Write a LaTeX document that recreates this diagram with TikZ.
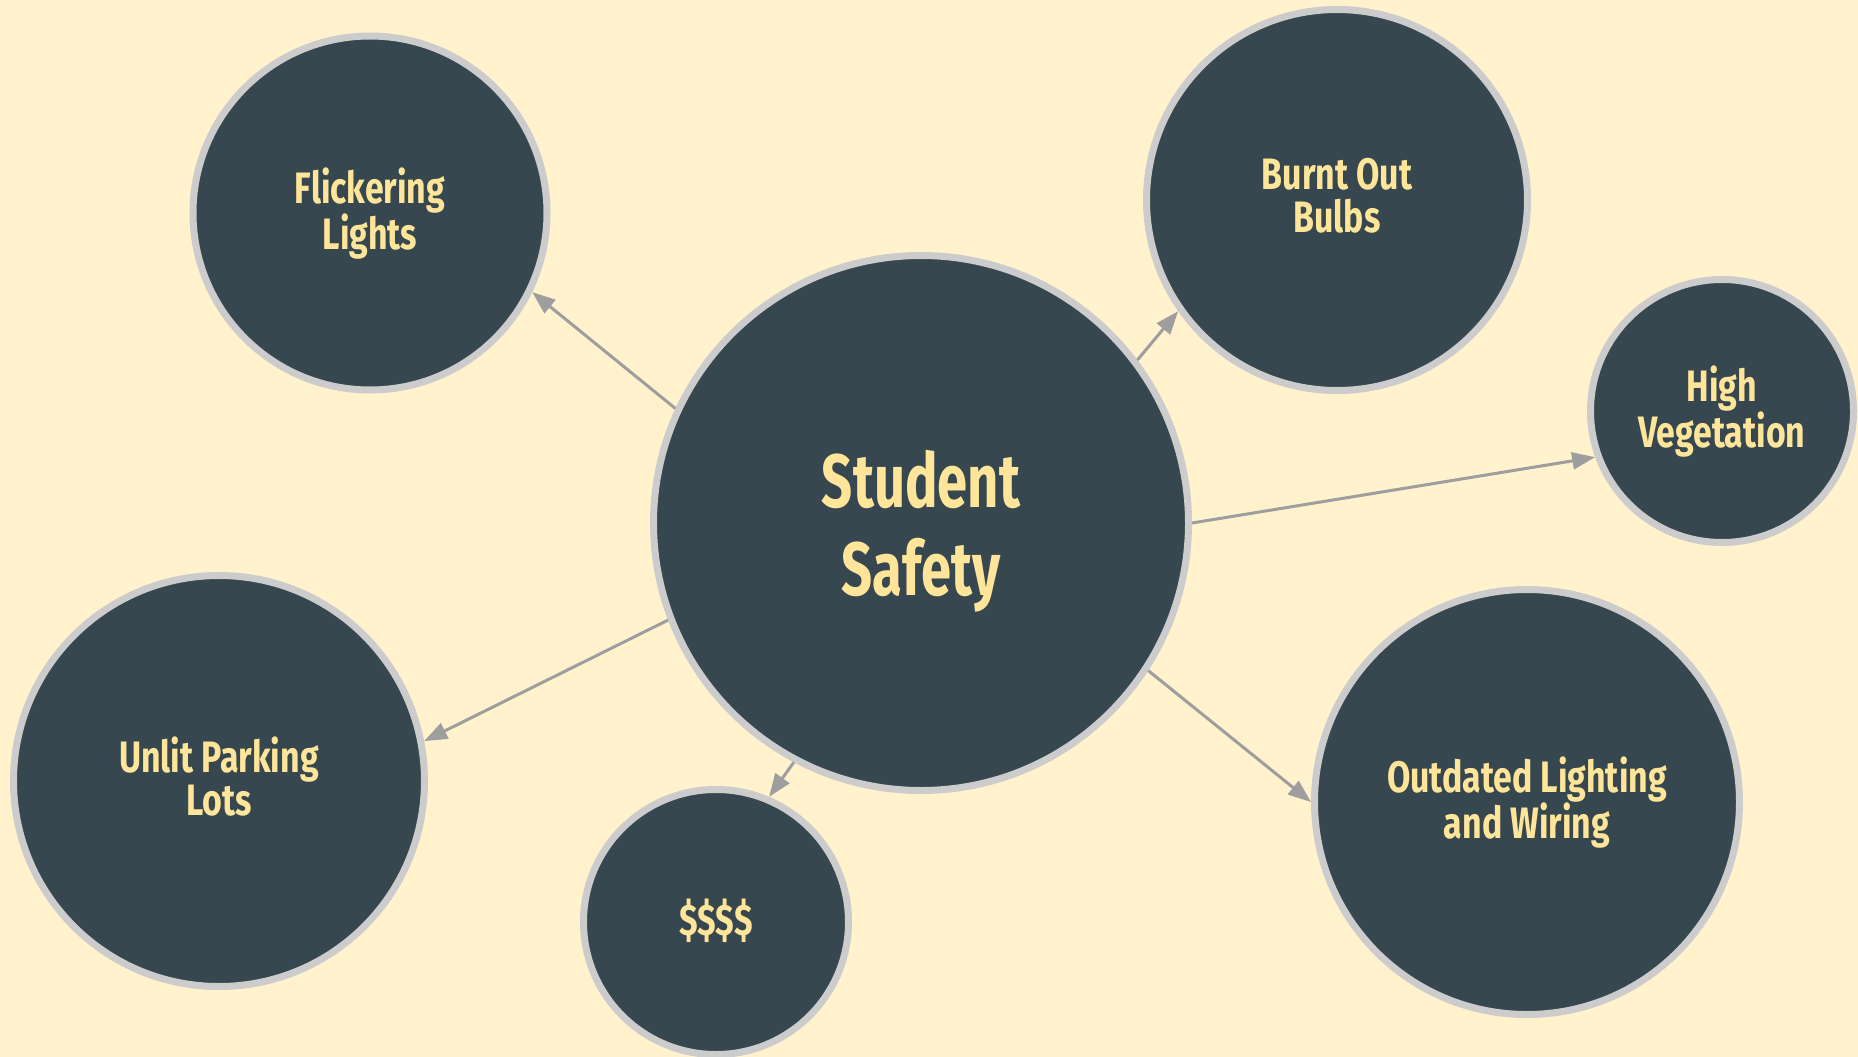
\documentclass[tikz,border=0pt]{standalone}
\usepackage{fontspec}
\newfontfamily\labfont[FakeStretch=0.77]{Fira Sans}
\newfontfamily\bigfont[FakeStretch=0.72]{Fira Sans}
\usetikzlibrary{arrows.meta}
\definecolor{bg}{HTML}{FFF2CC}
\definecolor{slate}{HTML}{37474F}
\definecolor{ring}{HTML}{CCCCCC}
\definecolor{label}{HTML}{FFE599}
\definecolor{linkgray}{HTML}{9E9E9E}
\begin{document}
\begin{tikzpicture}[x=1pt,y=-1pt,
  bubble/.style={circle, draw=ring, line width=7pt, fill=slate, text=label,
    align=center, inner sep=0pt, text depth=9pt,
    font=\labfont\bfseries\fontsize{44}{43}\selectfont},
  bigbubble/.style={bubble, text depth=0pt, font=\bigfont\bfseries\fontsize{75.5}{88}\selectfont},
  link/.style={draw=linkgray, line width=3pt, -{Triangle[length=23pt,width=17pt]}}
]
\fill[bg] (0,0) rectangle (1858,1057);
\useasboundingbox (0,0) rectangle (1858,1057);

\node[bigbubble, minimum size=535pt] (c) at (921,523) {Student\\Safety};
\node[bubble, minimum size=354pt] (flick) at (370,213) {Flickering\\Lights};
\node[bubble, minimum size=381pt] (burnt) at (1337,200) {Burnt Out\\Bulbs};
\node[bubble, minimum size=263pt] (high) at (1722,411) {High\\Vegetation};
\node[bubble, minimum size=411pt] (unlit) at (219,781) {Unlit Parking\\Lots};
\node[bubble, minimum size=265pt] (money) at (716,922) {\$\$\$\$};
\node[bubble, minimum size=425pt] (outd) at (1527,802) {Outdated Lighting\\and Wiring};

\draw[link] (c.155) -- (flick.334);
\draw[link] (c.37) -- (burnt.215);
\draw[link] (c.0) -- (high.200);
\draw[link] (c.-33) -- (outd.180);
\draw[link] (c.201) -- (unlit.11);
\draw[link] (c.242) -- (money.67);
\end{tikzpicture}
\end{document}
